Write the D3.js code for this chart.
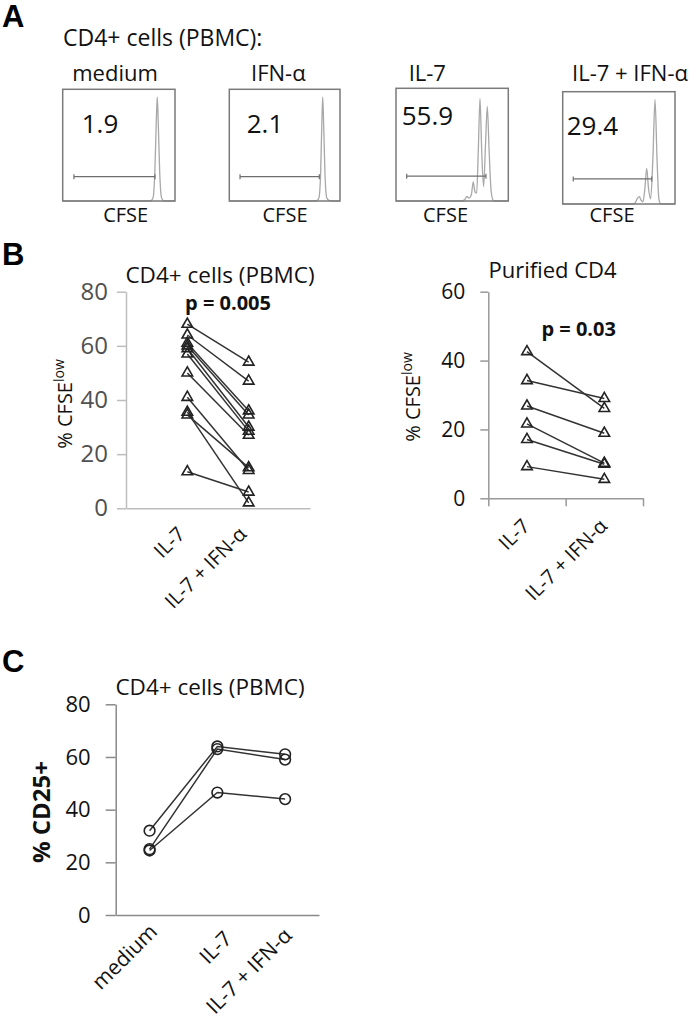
<!DOCTYPE html>
<html><head><meta charset="utf-8">
<script src="https://cdn.jsdelivr.net/npm/d3@7"></script>
<style>body{margin:0;background:#fff} svg{display:block}</style>
</head><body>
<svg id="chart" width="694" height="1033"></svg>
<script>
// ---------------- data ----------------
// Panel A: CFSE histograms (x = CFSE channel, 0-100; y = % of max count)
const histConditions = ["medium", "IFN-α", "IL-7", "IL-7 + IFN-α"];
const histPercents = ["1.9", "2.1", "55.9", "29.4"];
const histMedium = [[0,0],[77,0],[79,0.5],[80.5,3],[82,25],[83.3,70],[84.2,93],[85.1,70],[86.4,25],[88,3],[89.5,0.5],[91,0],[100,0]];
const histIFN = [[0,0],[77.5,0],[79.5,0.5],[81,3],[82.5,25],[83.6,70],[84.4,93],[85.2,70],[86.4,25],[88,3],[90,0.5],[92,0],[100,0]];
const histIL7 = [[0,0],[58,0],[61,1],[63.2,4],[65,2.5],[67,5],[68.8,17],[70.3,8],[71.8,7],[73.3,45],[74.8,91],[76.3,45],[78,12.7],[79.7,50],[81.3,84],[82.9,45],[84.8,8],[86.7,0.5],[88,0],[100,0]];
const histIL7IFN = [[0,0],[62,0],[64.5,1],[66.5,5],[68.2,6.5],[69.7,3.5],[71.5,2],[73.2,14],[74.8,31.8],[76.4,14],[78.3,4.5],[80.3,40],[82.2,93.2],[84,40],[85.6,5],[87,0.5],[88.5,0],[100,0]];
const gateStart = [10, 9.7, 9.5, 9.4];
const gateEnd = [82.2, 81.3, 80.1, 79.3];
const gateLevel = [21.8, 21.8, 22, 22.3];

// Panel B: % CFSE low, paired
const bCategories = ["IL-7", "IL-7 + IFN-α"];
const bTicksPBMC = [0, 20, 40, 60, 80];
const pbmcIL7 =    [68, 64, 61, 60, 59, 57, 50, 41, 35.5, 34.5, 13.5];
const pbmcIL7IFN = [54, 47, 36, 34.5, 30, 28.5, 27, 14, 2, 15, 6];
const bTicksPurified = [0, 20, 40, 60];
const purIL7 =    [42.6, 34.2, 26.8, 21.6, 17.1, 9.2];
const purIL7IFN = [26.1, 29.0, 18.9, 10.2, 9.9, 5.5];

// Panel C: % CD25+
const cCategories = ["medium", "IL-7", "IL-7 + IFN-α"];
const cTicks = [0, 20, 40, 60, 80];
const cd25Medium = [32, 25, 24.5];
const cd25IL7 = [64, 63, 46.5];
const cd25IL7IFN = [61, 59, 44];

// ---------------- drawing ----------------
const svg = d3.select("#chart");
const FONT = "'Open Sans', sans-serif";
const INK = "#111";

function txt(x, y, s, size, opts = {}) {
  const t = svg.append("text").attr("x", x).attr("y", y)
    .attr("font-family", opts.family || FONT).attr("font-size", size)
    .attr("font-weight", opts.weight || "normal")
    .attr("fill", opts.fill || INK)
    .attr("text-anchor", opts.anchor || "start");
  if (opts.rotate !== undefined) t.attr("transform", `rotate(${opts.rotate},${x},${y})`);
  t.text(s);
  return t;
}

// Panel letters
const LETTER = "'Liberation Sans', Arial, sans-serif";
txt(2, 27, "A", 31, {family: LETTER, weight: "bold", fill: "#000"});
txt(2, 265, "B", 31, {family: LETTER, weight: "bold", fill: "#000"});
txt(2, 672, "C", 31, {family: LETTER, weight: "bold", fill: "#000"});

// ---- Panel A ----
txt(63, 46, "CD4+ cells (PBMC):", 23);
const hists = [histMedium, histIFN, histIL7, histIL7IFN];
const boxes = [
  {x: 62.7, y: 89.3, w: 112.3, h: 111.7, tx: 115, nx: 81.7, ny: 133.3, cx: 125.7},
  {x: 229.3, y: 89.3, w: 110.7, h: 111.7, tx: 278.3, nx: 246.7, ny: 133, cx: 285},
  {x: 396, y: 88.3, w: 112.3, h: 112.7, tx: 427.3, nx: 401.7, ny: 125, cx: 445.5},
  {x: 562.7, y: 91.7, w: 112.3, h: 112.3, tx: 630, nx: 566.7, ny: 135, cx: 612}
];
hists.forEach((h, i) => {
  const b = boxes[i];
  const xs = d3.scaleLinear().domain([0, 100]).range([b.x, b.x + b.w]);
  const ys = d3.scaleLinear().domain([0, 100]).range([b.y + b.h, b.y]);
  svg.append("path")
    .attr("d", d3.line().x(d => xs(d[0])).y(d => ys(d[1])).curve(d3.curveMonotoneX)(h))
    .attr("fill", "none").attr("stroke", "#a8a8a8").attr("stroke-width", 1.3);
  const gy = ys(gateLevel[i]);
  svg.append("line").attr("x1", xs(gateStart[i])).attr("x2", xs(gateEnd[i]))
    .attr("y1", gy).attr("y2", gy).attr("stroke", "#6e6e6e").attr("stroke-width", 1.2);
  [gateStart[i], gateEnd[i]].forEach(v => {
    svg.append("line").attr("x1", xs(v)).attr("x2", xs(v)).attr("y1", gy - 2.5).attr("y2", gy + 2.5)
      .attr("stroke", "#6e6e6e").attr("stroke-width", 1.2);
  });
  svg.append("rect").attr("x", b.x).attr("y", b.y).attr("width", b.w).attr("height", b.h)
    .attr("fill", "none").attr("stroke", "#7a7a7a").attr("stroke-width", 1.5);
  txt(b.tx, 81, histConditions[i], 22, {anchor: "middle"});
  txt(b.nx, b.ny, histPercents[i], 26);
  txt(b.cx, 222, "CFSE", 20, {anchor: "middle"});
});

// ---- paired plot helper ----
function pairedPlot(cfg) {
  const y = d3.scaleLinear().domain(cfg.yDomain).range([cfg.y0, cfg.y1]);
  const g = svg.append("g");
  const ya = d3.axisLeft(y).tickValues(cfg.ticks).tickSize(cfg.tickLen).tickSizeOuter(0).tickPadding(cfg.tickPad);
  const yg = g.append("g").attr("transform", `translate(${cfg.axisX},0)`).call(ya);
  yg.select(".domain").attr("stroke", cfg.axisColor).attr("stroke-width", 1.5);
  yg.selectAll(".tick line").attr("stroke", cfg.axisColor).attr("stroke-width", 1.5);
  yg.selectAll(".tick text").attr("font-family", FONT).attr("font-size", cfg.tickFont).attr("fill", cfg.tickColor);
  const xa = d3.axisBottom(cfg.xTickScale).tickValues(cfg.xTickValues).tickSize(cfg.xTickLen).tickSizeOuter(0).tickFormat("");
  const xg = g.append("g").attr("transform", `translate(0,${y(0)})`).call(xa);
  xg.select(".domain").attr("stroke", cfg.axisColor).attr("stroke-width", 1.5);
  xg.selectAll(".tick line").attr("stroke", cfg.axisColor).attr("stroke-width", 1.5);
  const rows = d3.range(cfg.series[0].length).map(r => cfg.series.map((s, c) => [cfg.x(cfg.categories[c]), y(s[r])]));
  g.selectAll(".pair").data(rows).join("path")
    .attr("d", d3.line())
    .attr("fill", "none").attr("stroke", "#333").attr("stroke-width", 1.5);
  const pts = rows.flat();
  g.selectAll(".mk").data(pts).join("path")
    .attr("transform", d => `translate(${d[0]},${d[1]})`)
    .attr("d", d3.symbol().type(cfg.symbol).size(cfg.symbolSize)())
    .attr("fill", "none").attr("stroke", "#222").attr("stroke-width", 1.6);
  cfg.categories.forEach((c, i) => {
    const dx = Array.isArray(cfg.labDx) ? cfg.labDx[i] : cfg.labDx;
    const dy = Array.isArray(cfg.labDy) ? cfg.labDy[i] : cfg.labDy;
    txt(cfg.x(c) + dx, y(0) + dy, c, cfg.labFont, {anchor: "end", rotate: -45});
  });
  return y;
}

function yTitleCFSE(x, y) {
  const t = svg.append("text").attr("transform", `translate(${x},${y}) rotate(-90)`)
    .attr("text-anchor", "middle").attr("font-family", FONT).attr("font-size", 20).attr("fill", INK);
  t.append("tspan").text("% CFSE");
  t.append("tspan").attr("font-size", 14).attr("dy", -8).text("low");
}

// ---- Panel B left ----
const xPBMC = d3.scalePoint().domain(["", ...bCategories, " "]).range([126, 310]);
txt(220, 283, "CD4+ cells (PBMC)", 22.5, {anchor: "middle"});
txt(228, 310, "p = 0.005", 20, {anchor: "middle", weight: "bold"});
pairedPlot({
  yDomain: [0, 80], y0: 508.3, y1: 291.7, ticks: bTicksPBMC, axisX: 126,
  tickLen: 9, tickPad: 9, tickFont: 24, tickColor: "#505050", axisColor: "#bdbdbd",
  xTickScale: d3.scaleLinear().domain([0, 1]).range([126, 310]), xTickValues: [], xTickLen: 0,
  categories: bCategories, x: xPBMC, series: [pbmcIL7, pbmcIL7IFN],
  symbol: d3.symbolTriangle, symbolSize: 48, labDx: -1, labDy: 27, labFont: 20
});
yTitleCFSE(72, 404);

// ---- Panel B right ----
const xPur = d3.scaleBand().domain(bCategories).range([488.3, 643]);
const xPurC = c => xPur(c) + xPur.bandwidth() / 2;
txt(552.5, 278, "Purified CD4", 22, {anchor: "middle"});
txt(578.7, 336, "p = 0.03", 20, {anchor: "middle", weight: "bold"});
pairedPlot({
  yDomain: [0, 60], y0: 498.3, y1: 291.7, ticks: bTicksPurified, axisX: 488.3,
  tickLen: 8, tickPad: 15, tickFont: 21, tickColor: "#111", axisColor: "#999",
  xTickScale: d3.scaleLinear().domain([0, 2]).range([488.3, 643]), xTickValues: [0, 1, 2], xTickLen: 8,
  categories: bCategories, x: xPurC, series: [purIL7, purIL7IFN],
  symbol: d3.symbolTriangle, symbolSize: 48, labDx: 4, labDy: 29, labFont: 20
});
yTitleCFSE(420, 397);

// ---- Panel C ----
const xC = d3.scaleBand().domain(cCategories).range([115.7, 319]);
const xCC = c => xC(c) + xC.bandwidth() / 2;
txt(210, 695, "CD4+ cells (PBMC)", 22.5, {anchor: "middle"});
pairedPlot({
  yDomain: [0, 80], y0: 915, y1: 704.3, ticks: cTicks, axisX: 115.7,
  tickLen: 10, tickPad: 15, tickFont: 22, tickColor: "#111", axisColor: "#8a8a8a",
  xTickScale: d3.scaleLinear().domain([0, 1]).range([115.7, 319]), xTickValues: [], xTickLen: 0,
  categories: cCategories, x: xCC, series: [cd25Medium, cd25IL7, cd25IL7IFN],
  symbol: d3.symbolCircle, symbolSize: 90, labDx: [9, 16, 8], labDy: [18, 25, 22], labFont: 21
});
txt(50, 812, "% CD25+", 24, {anchor: "middle", weight: "bold", rotate: -90});
</script>
</body></html>
